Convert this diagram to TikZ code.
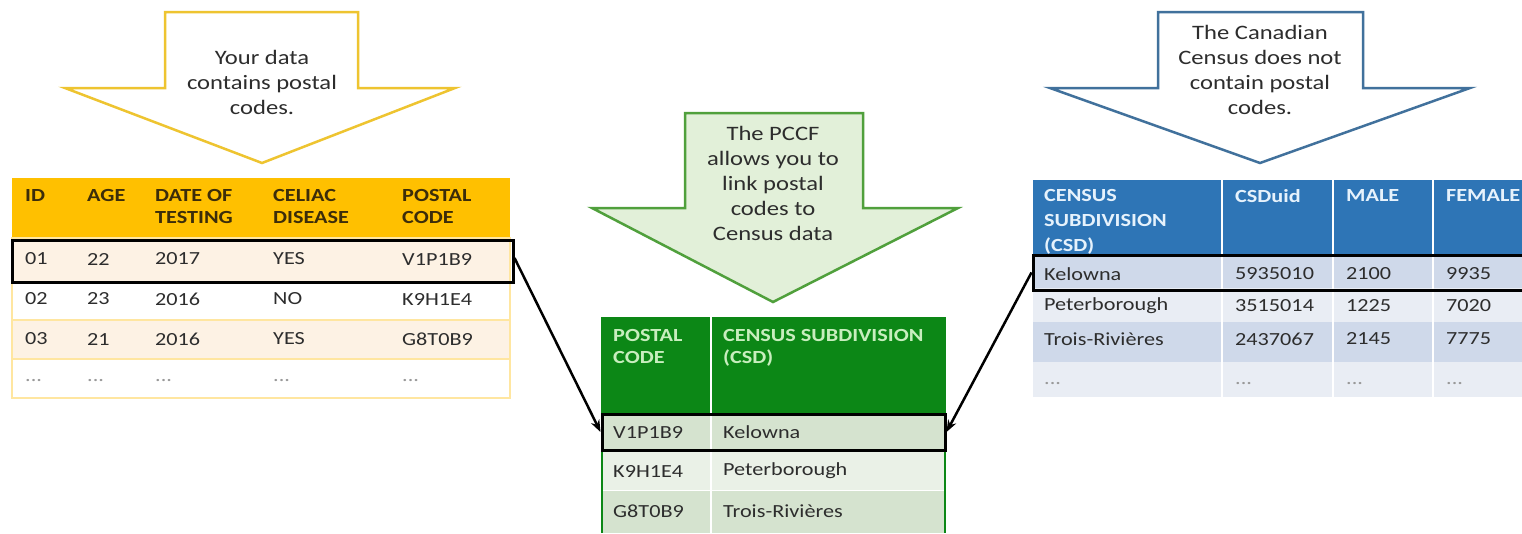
\documentclass[tikz,border=0pt]{standalone}
\usepackage{fontspec}
\setmainfont{Carlito}[FakeStretch=1.2]
\usetikzlibrary{arrows.meta}

\definecolor{txtgray}{RGB}{45,45,45}
\definecolor{yarrow}{RGB}{238,196,48}
\definecolor{yhead}{RGB}{255,192,0}
\definecolor{ytext}{RGB}{60,45,10}
\definecolor{ylight}{RGB}{253,242,228}
\definecolor{yline}{RGB}{255,230,160}
\definecolor{garrow}{RGB}{80,160,60}
\definecolor{gfill}{RGB}{226,240,217}
\definecolor{ghead}{RGB}{12,135,22}
\definecolor{gtext}{RGB}{200,238,190}
\definecolor{grnrow}{RGB}{213,227,207}
\definecolor{grnrowl}{RGB}{234,241,231}
\definecolor{barrow}{RGB}{65,113,156}
\definecolor{bhead}{RGB}{46,117,182}
\definecolor{btext}{RGB}{230,242,252}
\definecolor{blurow}{RGB}{207,217,234}
\definecolor{blurowl}{RGB}{233,237,244}

\tikzset{
  tabtxt/.style={anchor=west, inner sep=0pt, text=txtgray, font=\fontsize{18.5}{22}\selectfont},
  dotstxt/.style={tabtxt, text=gray!80},
  headtxt/.style={anchor=north west, inner sep=0pt, align=left, font=\bfseries\fontsize{18.5}{22}\selectfont},
  callout/.style={align=center, inner sep=0pt, text=txtgray, font=\fontsize{20.5}{25}\selectfont},
  rowbox/.style={draw=black, line width=3pt, inner sep=0pt},
  link/.style={line width=2.5pt, -{Stealth[length=12pt,width=9pt]}},
}

\begin{document}
\begin{tikzpicture}[x=1pt,y=-1pt]
\useasboundingbox (0,0) rectangle (1522,533);
\fill[white] (0,0) rectangle (1522,533);

% yellow arrow
\draw[draw=yarrow, line width=2.5pt, fill=white] (165,12) -- (358,12) -- (358,88) -- (455,88) -- (262,163) -- (65,88) -- (165,88) -- cycle;
\node[callout] (yourdata) at (262,82) {Your data\\contains postal\\codes.};

% green arrow
\draw[draw=garrow, line width=2.5pt, fill=gfill] (685,113) -- (863,113) -- (863,208) -- (958,208) -- (773,302) -- (592,208) -- (685,208) -- cycle;
\node[callout] (pccf) at (773,183) {The PCCF\\allows you to\\link postal\\codes to\\Census data};

% blue arrow
\draw[draw=barrow, line width=2.5pt, fill=white] (1158,12) -- (1363,12) -- (1363,88) -- (1470,88) -- (1260,163) -- (1050,88) -- (1158,88) -- cycle;
\node[callout] (census) at (1260,70) {The Canadian\\Census does not\\contain postal\\codes.};

% left table
\fill[fill=yhead] (12,178) rectangle (510,238);
\fill[fill=ylight] (12,238) rectangle (510,282);
\fill[fill=ylight] (12,320) rectangle (510,359);
\draw[draw=yline, line width=1.2pt] (12,238) rectangle (510,398);
\foreach \y in {282,320,359}
  \draw[draw=yline, line width=1.2pt] (12,\y) -- (510,\y);
\node[headtxt, text=ytext] (hid) at (25,189) {ID};
\node[headtxt, text=ytext] (hage) at (87,189) {AGE};
\node[headtxt, text=ytext] (hdate) at (155,189) {DATE OF\\TESTING};
\node[headtxt, text=ytext] (hceliac) at (273,189) {CELIAC\\DISEASE};
\node[headtxt, text=ytext] (hpostal) at (402,189) {POSTAL\\CODE};
\foreach \y/\id/\age/\year/\cd/\pc in {259/01/22/2017/YES/V1P1B9, 299/02/23/2016/NO/K9H1E4, 339/03/21/2016/YES/G8T0B9}{
  \node[tabtxt] (id\id) at (25,\y) {\id};
  \node[tabtxt] (age\id) at (87,\y) {\age};
  \node[tabtxt] (year\id) at (155,\y) {\year};
  \node[tabtxt] (celiac\id) at (273,\y) {\cd};
  \node[tabtxt] (postal\id) at (402,\y) {\pc};
}
\foreach \x [count=\i] in {25,87,155,273,402}
  \node[dotstxt] (ldots\i) at (\x,381) {...};

% middle table
\fill[fill=ghead] (602,317) rectangle (945,413);
\fill[fill=grnrow] (602,413) rectangle (945,450);
\fill[fill=grnrowl] (602,450) rectangle (945,490);
\fill[fill=grnrow] (602,490) rectangle (945,533);
\draw[white, line width=1pt] (602,450) -- (945,450) (602,490) -- (945,490);
\draw[white, line width=1.5pt] (711,317) -- (711,533);
\draw[draw=ghead, line width=1.5pt] (602,317) -- (602,533) (945,317) -- (945,533);
\node[headtxt, text=gtext] (hpc) at (613,329) {POSTAL\\CODE};
\node[headtxt, text=gtext] (hcsd) at (723,329) {CENSUS SUBDIVISION\\(CSD)};
\foreach \y/\pc/\csd [count=\i] in {432/V1P1B9/Kelowna, 471/K9H1E4/Peterborough, 511/G8T0B9/Trois-Rivières}{
  \node[tabtxt] (mpc\i) at (613,\y) {\pc};
  \node[tabtxt] (mcsd\i) at (723,\y) {\csd};
}

% right table
\fill[fill=bhead] (1033,180) rectangle (1530,255);
\fill[fill=blurow] (1033,255) rectangle (1530,288);
\fill[fill=blurowl] (1033,288) rectangle (1530,322);
\fill[fill=blurow] (1033,322) rectangle (1530,362);
\fill[fill=blurowl] (1033,362) rectangle (1530,397);
\foreach \x in {1222,1333,1433}
  \draw[white, line width=1.5pt] (\x,180) -- (\x,397);
\node[headtxt, text=btext, font=\bfseries\fontsize{18.5}{25}\selectfont] (hsub) at (1044,189) {CENSUS\\SUBDIVISION\\(CSD)};
\node[headtxt, text=btext] (huid) at (1235,189) {CSDuid};
\node[headtxt, text=btext] (hmale) at (1346,189) {MALE};
\node[headtxt, text=btext] (hfemale) at (1446,189) {FEMALE};
\foreach \y/\csd/\uid/\m/\f [count=\i] in {274/Kelowna/5935010/2100/9935, 306/Peterborough/3515014/1225/7020, 339/Trois-Rivières/2437067/2145/7775}{
  \node[tabtxt] (rcsd\i) at (1044,\y) {\csd};
  \node[tabtxt] (ruid\i) at (1235,\y) {\uid};
  \node[tabtxt] (rmale\i) at (1346,\y) {\m};
  \node[tabtxt] (rfemale\i) at (1446,\y) {\f};
}
\foreach \x [count=\i] in {1044,1235,1346,1446}
  \node[dotstxt] (rdots\i) at (\x,384) {...};

% highlighted rows and links
\node[rowbox, minimum width=501pt, minimum height=42pt] (lrow) at (262.5,261) {};
\node[rowbox, minimum width=343pt, minimum height=36pt] (mrow) at (773.5,432) {};
\node[rowbox, minimum width=497pt, minimum height=35pt] (rrow) at (1281.5,272.5) {};
\draw[link] ([yshift=3pt]lrow.east) -- (mrow.west);
\draw[link] (rrow.west) -- (mrow.east);
\end{tikzpicture}
\end{document}
